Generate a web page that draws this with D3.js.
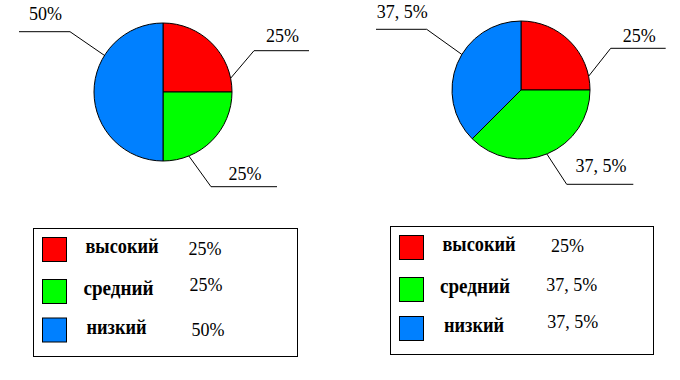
<!DOCTYPE html>
<html>
<head>
<meta charset="utf-8">
<script src="https://cdn.jsdelivr.net/npm/d3@7"></script>
</head>
<body style="margin:0;background:#fff">
<script>
// ---- data ----
const categories = ["высокий", "средний", "низкий"];
const sliceColors = ["#ff0000", "#00ff00", "#0080ff"];
const valuesLeft = [25, 25, 50];
const valuesRight = [25, 37.5, 37.5];

const fmt = v => String(v).replace(".", ", ") + "%";
const SERIF = '"Liberation Serif"';

// ---- layout ----
const W = 680, H = 380;
const charts = [
  {
    values: valuesLeft, cx: 163, cy: 92, r: 69,
    leaders: [
      { angle: 78.5, ex: 91,  ey: -41.3, len: 55,  gap: 9 },
      { angle: 158,  ex: 48,  ey: 94.7,  len: 66,  gap: 6.5 },
      { angle: 302,  ex: -93, ey: -60.3, len: -51, gap: 11.5 }
    ],
    box: { x: 33.5, y: 228.5, w: 264, h: 128 },
    rowY: [9, 51, 89.5],
    labelX: [52, 50, 53],
    valX: [155, 156, 158],
    valY: [26.5, 62, 107.5]
  },
  {
    values: valuesRight, cx: 521, cy: 90, r: 69,
    leaders: [
      { angle: 78.5, ex: 89.7,  ey: -41.7, len: 55,    gap: 6.5 },
      { angle: 158,  ex: 45.7,  ey: 94.3,  len: 66.6,  gap: 12 },
      { angle: 301,  ex: -94.3, ey: -60.7, len: -50.7, gap: 11 }
    ],
    box: { x: 390.5, y: 226.5, w: 263, h: 128 },
    rowY: [9, 51, 90],
    labelX: [52, 49.5, 53.5],
    valX: [160.5, 155.7, 156.7],
    valY: [25.5, 64, 101]
  }
];
const labelWidths = [73, 70, 60];

const svg = d3.select("body").append("svg")
  .attr("width", W).attr("height", H)
  .style("display", "block");

const color = d3.scaleOrdinal().domain(categories).range(sliceColors);
const pie = d3.pie().sort(null).value(d => d.v);

charts.forEach(c => {
  const data = categories.map((k, i) => ({ k, v: c.values[i] }));
  const arcs = pie(data);
  const arc = d3.arc().innerRadius(0).outerRadius(c.r);

  const g = svg.append("g").attr("transform", `translate(${c.cx},${c.cy})`);
  g.selectAll("path.slice").data(arcs).join("path")
    .attr("class", "slice")
    .attr("d", arc)
    .attr("fill", d => color(d.data.k))
    .attr("stroke", "#000")
    .attr("stroke-width", 1)
    .attr("stroke-linejoin", "round");

  // leader lines and labels
  arcs.forEach((a, i) => {
    const L = c.leaders[i];
    const ang = L.angle * Math.PI / 180;
    const px = c.r * Math.sin(ang), py = -c.r * Math.cos(ang);
    const line = d3.line();
    g.append("path")
      .attr("d", line([[px, py], [L.ex, L.ey], [L.ex + L.len, L.ey]]))
      .attr("fill", "none")
      .attr("stroke", "#000")
      .attr("stroke-width", 1);
    g.append("text")
      .attr("x", L.ex + L.len / 2 + 1)
      .attr("y", L.ey - L.gap)
      .attr("text-anchor", "middle")
      .style("font-family", SERIF)
      .style("font-size", "18px")
      .attr("fill", "#000")
      .text(fmt(a.data.v));
  });

  // legend
  const b = c.box;
  const lg = svg.append("g").attr("transform", `translate(${b.x},${b.y})`);
  lg.append("rect")
    .attr("width", b.w).attr("height", b.h)
    .attr("fill", "#fff").attr("stroke", "#000").attr("stroke-width", 1);
  categories.forEach((k, i) => {
    lg.append("rect")
      .attr("x", 9).attr("y", c.rowY[i])
      .attr("width", 24).attr("height", 24)
      .attr("fill", color(k)).attr("stroke", "#000").attr("stroke-width", 1);
    lg.append("text")
      .attr("x", c.labelX[i])
      .attr("y", c.rowY[i] + 15.5)
      .style("font-family", SERIF)
      .style("font-weight", "bold")
      .style("font-size", "20px")
      .attr("textLength", labelWidths[i])
      .attr("lengthAdjust", "spacingAndGlyphs")
      .attr("fill", "#000")
      .text(k);
    lg.append("text")
      .attr("x", c.valX[i])
      .attr("y", c.valY[i])
      .style("font-family", SERIF)
      .style("font-size", "18px")
      .attr("fill", "#000")
      .text(fmt(c.values[i]));
  });
});
</script>
</body>
</html>
